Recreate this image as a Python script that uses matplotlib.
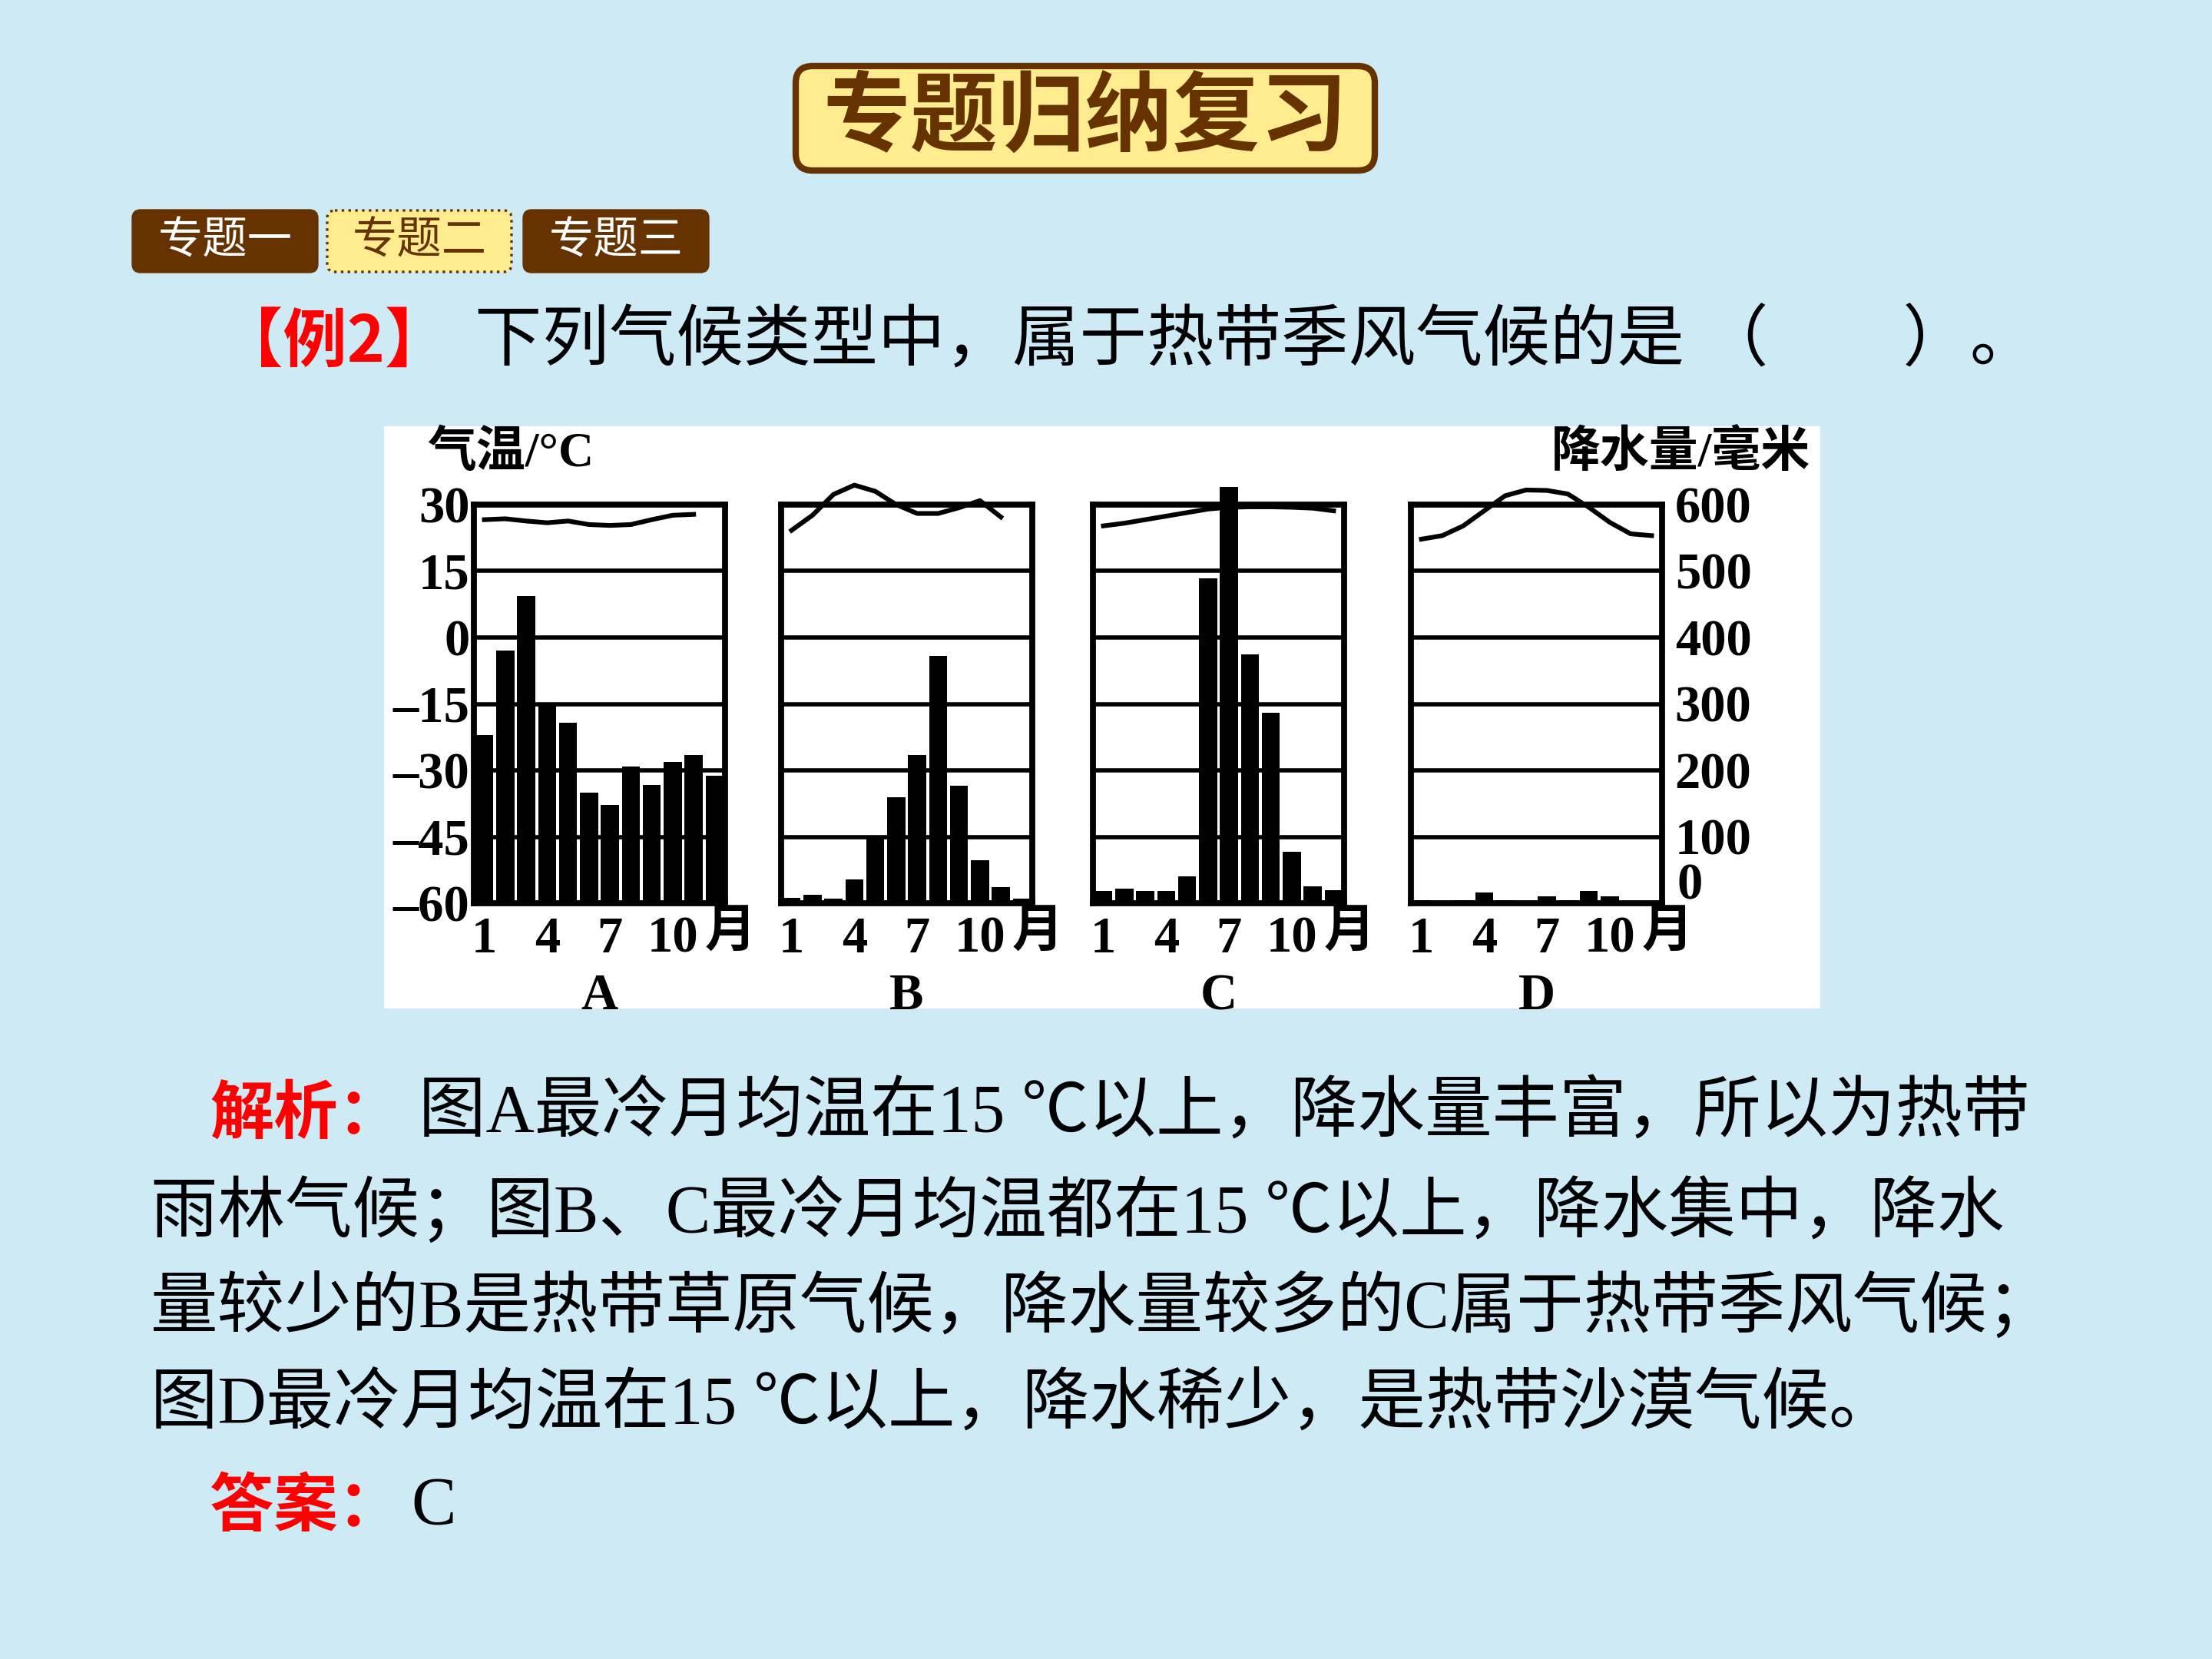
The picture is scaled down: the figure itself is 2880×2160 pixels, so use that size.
import matplotlib.pyplot as plt
from matplotlib.patches import FancyBboxPatch, Rectangle
import numpy as np

# ---------------------------------------------------------------- data
months = np.arange(1, 13)
panels = ['A', 'B', 'C', 'D']

precip_a = [253, 380, 462, 301, 272, 166, 148, 206, 178, 213, 223, 192]
precip_b = [8, 13, 7, 36, 100, 159, 223, 372, 177, 65, 24, 7]
precip_c = [19, 22, 19, 19, 40, 489, 627, 374, 287, 78, 26, 20]
precip_d = [5, 4, 5, 16, 5, 4, 10, 5, 18, 10, 4, 4]

temp_a = [26.6, 26.8, 26.3, 25.9, 26.3, 25.5, 25.3, 25.5, 26.6, 27.6, 27.8, np.nan]
temp_b = [24.2, 27.6, 32.3, 34.4, 33.0, 30.0, 28.0, 28.0, 29.3, 30.9, 27.2, np.nan]
temp_c = [25.2, 25.8, 26.6, 27.4, 28.2, 29.0, 29.4, 29.5, 29.5, 29.4, 29.2, 28.6]
temp_d = [22.2, 23.0, 25.2, 28.6, 32.0, 33.3, 33.2, 32.4, 29.4, 26.0, 23.4, 23.0]

temp_ticks = [-60, -45, -30, -15, 0, 15, 30]
precip_ticks = [0, 100, 200, 300, 400, 500, 600]
month_ticks = [1, 4, 7, 10]

title = '专题归纳复习'
tabs = ['专题一', '专题二', '专题三']
question = '下列气候类型中，属于热带季风气候的是 （        ）。'
analysis = ['图A最冷月均温在15 ℃以上，降水量丰富，所以为热带',
            '雨林气候；图B、C最冷月均温都在15 ℃以上，降水集中，降水',
            '量较少的B是热带草原气候，降水量较多的C属于热带季风气候；',
            '图D最冷月均温在15 ℃以上，降水稀少，是热带沙漠气候。']
answer = 'C'

# ---------------------------------------------------------------- style
BG = '#cdeaf5'
BROWN = '#663300'
YELLOW = '#ffec8f'
RED = '#ff0000'
SERIF = ['Liberation Serif', 'Noto Sans CJK SC']
CJK = ['Noto Sans CJK SC', 'DejaVu Sans']
plt.rcParams['font.family'] = SERIF

fig = plt.figure(figsize=(14.4, 10.8), dpi=200, facecolor=BG)

# background layer in pixel coordinates
bg = fig.add_axes([0, 0, 1, 1])
bg.set_xlim(0, 2880)
bg.set_ylim(2160, 0)
bg.axis('off')

# title box
bg.add_patch(FancyBboxPatch((1036, 86), 754, 136, boxstyle='round,pad=0,rounding_size=22',
                            fc=YELLOW, ec=BROWN, lw=3))
bg.text(1413, 154, title, family=CJK, fontsize=41, weight='bold', color=BROWN,
        ha='center', va='center')

# tabs
tab_x = [173, 426, 682]
for i, (x, lab) in enumerate(zip(tab_x, tabs)):
    active = i == 1
    bg.add_patch(FancyBboxPatch((x, 274), 240, 80, boxstyle='round,pad=0,rounding_size=10',
                                fc=YELLOW if active else BROWN, ec=BROWN,
                                lw=1.2, ls=':' if active else '-'))
    bg.text(x + 120, 314, lab, family=CJK, fontsize=21,
            color=BROWN if active else 'white', ha='center', va='center')

# question line
bg.text(285, 446, '【例2】', family=CJK, fontsize=30, weight='bold', color=RED,
        ha='left', va='center')
bg.text(618, 446, question, family=SERIF, fontsize=31.5, color='black',
        ha='left', va='center')

# white chart area
bg.add_patch(Rectangle((500, 555), 1870, 758, fc='white', ec='none'))

# ---------------------------------------------------------------- climate charts
box_left = [617, 1017, 1423, 1837]
box_w = 327
box_top, box_bot = 657, 1176
precips = [precip_a, precip_b, precip_c, precip_d]
temps = [temp_a, temp_b, temp_c, temp_d]
lab_font = dict(family=SERIF, fontsize=24, weight='bold')

for k, (name, pr, tp) in enumerate(zip(panels, precips, temps)):
    ax = fig.add_axes([box_left[k] / 2880, 1 - box_bot / 2160,
                       box_w / 2880, (box_bot - box_top) / 2160])
    tx = ax.twinx()
    ax.set_facecolor('white')
    ax.bar(months, pr, width=0.86, color='black', zorder=3, clip_on=False)
    ax.set_xlim(0.5, 12.5)
    ax.set_ylim(0, 600)
    for v in precip_ticks[1:-1]:
        ax.axhline(v, color='black', lw=2.0, zorder=1)
    for s in ax.spines.values():
        s.set_linewidth(2.8)
        s.set_zorder(4)
    ax.set_xticks(month_ticks)
    ax.set_xticklabels(['1', '4', '7', '10'], **lab_font)
    ax.tick_params(axis='x', length=0, pad=6)
    ax.text(12.75, -0.077, '月', transform=ax.get_xaxis_transform(), family=SERIF,
            fontsize=24, weight='bold', ha='center', va='center')
    ax.text(0.5, -0.235, name, transform=ax.transAxes, ha='center', va='center', **lab_font)

    if k == 3:
        # right-hand precipitation scale; the "0" sits a little above the baseline
        ax.yaxis.tick_right()
        ax.set_yticks(precip_ticks[1:])
        ax.set_yticklabels([str(v) for v in precip_ticks[1:]], **lab_font)
        ax.tick_params(axis='y', length=0, pad=6)
        ax.annotate(str(precip_ticks[0]), xy=(1, 0), xycoords='axes fraction',
                    xytext=(7, 8), textcoords='offset points', ha='left', va='center',
                    **lab_font)
    else:
        ax.set_yticks([])

    tx.set_ylim(-60, 30)
    tx.plot(months, tp, color='black', lw=2.2, clip_on=False, zorder=5)
    for s in tx.spines.values():
        s.set_visible(False)
    if k == 0:
        tx.yaxis.tick_left()
        tx.set_yticks(temp_ticks)
        tx.set_yticklabels([str(v).replace('-', '–') for v in temp_ticks], **lab_font)
        tx.tick_params(axis='y', length=0, pad=2)
    else:
        tx.set_yticks([])

bg.text(665, 591, '气温/°C', family=SERIF, fontsize=23, weight='bold', ha='center', va='center')
bg.text(2188, 591, '降水量/毫米', family=SERIF, fontsize=23, weight='bold', ha='center', va='center')

# ---------------------------------------------------------------- analysis text
bg.text(273, 1451, '解析：', family=CJK, fontsize=30, weight='bold', color=RED,
        ha='left', va='center')
bg.text(545, 1451, analysis[0], fontsize=31.5, ha='left', va='center')
line_y = [1580, 1704, 1831]
for y, line in zip(line_y, analysis[1:]):
    bg.text(196, y, line, fontsize=31.5, ha='left', va='center')
bg.text(273, 1962, '答案：', family=CJK, fontsize=30, weight='bold', color=RED,
        ha='left', va='center')
bg.text(535, 1962, answer, fontsize=31.5, ha='left', va='center')

fig.savefig('out.png', dpi=200, facecolor=BG)
